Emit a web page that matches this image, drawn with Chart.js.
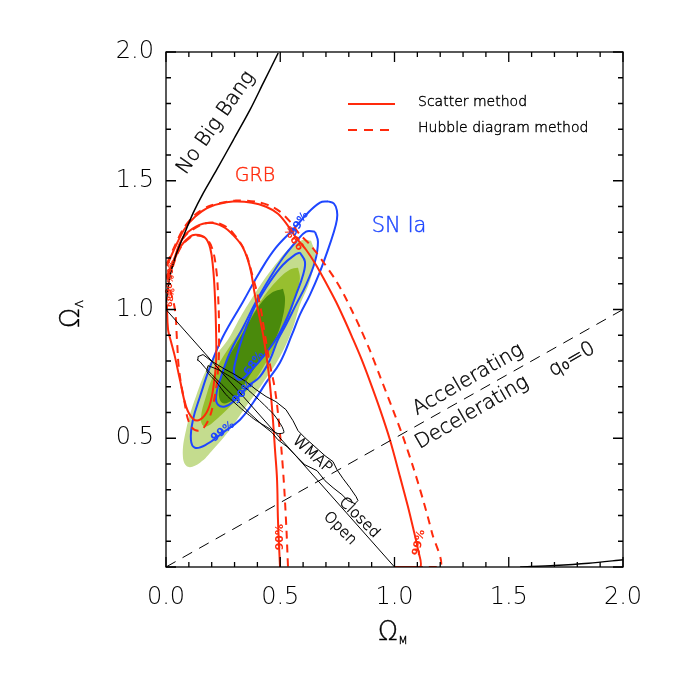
<!DOCTYPE html>
<html>
<head>
<meta charset="utf-8">
<script src="https://cdn.jsdelivr.net/npm/chart.js@4.4.1/dist/chart.umd.min.js"></script>
<style>
  html, body { margin: 0; padding: 0; background: #fff; }
  canvas { display: block; }
</style>
</head>
<body>
<canvas id="grafico" width="673" height="673"></canvas>
<script>
// Plano Omega_M x Omega_Lambda: contornos GRB, SN Ia e WMAP

// eixos
const xTickLabels = ['0.0', '0.5', '1.0', '1.5', '2.0'];
const yTickLabels = ['', '0.5', '1.0', '1.5', '2.0'];
const majorTicks = [0, 0.5, 1, 1.5, 2];
const minorTicks = [0.1, 0.2, 0.3, 0.4, 0.6, 0.7, 0.8, 0.9, 1.1, 1.2, 1.3, 1.4, 1.6, 1.7, 1.8, 1.9];

// linhas de referencia
const noBigBang = [[0, 1.0], [0.002, 1.03], [0.007, 1.07], [0.02, 1.14], [0.047, 1.22], [0.076, 1.284],
  [0.119, 1.375], [0.163, 1.452], [0.222, 1.543], [0.295, 1.659], [0.368, 1.776], [0.426, 1.88], [0.491, 1.996]];
const recollapse = [[1.55, 0], [1.7, 0.006], [1.85, 0.015], [2.0, 0.028]];
const flatLine = [[0, 1], [1, 0]];
const q0Line = [[0, 0], [2, 1]];

// SN Ia (areas preenchidas)
const snLight = [[0.635, 1.267], [0.652, 1.213], [0.630, 1.112], [0.587, 1.019], [0.556, 0.930], [0.499, 0.817],
  [0.425, 0.716], [0.350, 0.623], [0.280, 0.534], [0.206, 0.456], [0.149, 0.405], [0.096, 0.389], [0.074, 0.428],
  [0.088, 0.533], [0.131, 0.662], [0.193, 0.793], [0.271, 0.883], [0.324, 0.968], [0.394, 1.069], [0.468, 1.162],
  [0.543, 1.240], [0.600, 1.271]];
const snMid = [[0.578, 1.162], [0.586, 1.120], [0.569, 1.057], [0.543, 0.980], [0.499, 0.894], [0.438, 0.794],
  [0.368, 0.700], [0.280, 0.623], [0.219, 0.572], [0.171, 0.545], [0.153, 0.572], [0.175, 0.662], [0.219, 0.767],
  [0.293, 0.875], [0.368, 0.968], [0.425, 1.046], [0.481, 1.108], [0.543, 1.155]];
const snCore = [[0.512, 1.081], [0.521, 1.038], [0.508, 0.960], [0.477, 0.883], [0.429, 0.817], [0.381, 0.763],
  [0.337, 0.700], [0.293, 0.650], [0.245, 0.638], [0.232, 0.689], [0.263, 0.794], [0.306, 0.864], [0.350, 0.930],
  [0.411, 1.019], [0.464, 1.066]];

// SN Ia (contornos azuis)
const sn99 = [[0.709, 1.420], [0.735, 1.411], [0.748, 1.384], [0.748, 1.349], [0.731, 1.291], [0.706, 1.225],
  [0.674, 1.147], [0.630, 1.057], [0.586, 0.980], [0.551, 0.902], [0.499, 0.794], [0.438, 0.716], [0.381, 0.638],
  [0.324, 0.572], [0.249, 0.522], [0.175, 0.475], [0.127, 0.463], [0.109, 0.494], [0.118, 0.572], [0.149, 0.662],
  [0.193, 0.778], [0.249, 0.894], [0.337, 1.030], [0.411, 1.147], [0.481, 1.240], [0.569, 1.322], [0.613, 1.368],
  [0.674, 1.415]];
const sn90 = [[0.652, 1.302], [0.665, 1.263], [0.652, 1.186], [0.613, 1.096], [0.569, 1.019], [0.525, 0.941],
  [0.490, 0.883], [0.455, 0.805], [0.411, 0.739], [0.368, 0.708], [0.293, 0.642], [0.258, 0.623], [0.228, 0.630],
  [0.219, 0.662], [0.241, 0.739], [0.280, 0.833], [0.337, 0.930], [0.394, 1.030], [0.455, 1.123], [0.512, 1.201],
  [0.569, 1.263], [0.613, 1.302]];
const sn68 = [[0.586, 1.221], [0.608, 1.186], [0.600, 1.135], [0.569, 1.057], [0.530, 0.968], [0.486, 0.891],
  [0.433, 0.825], [0.368, 0.759], [0.324, 0.727], [0.298, 0.751], [0.306, 0.805], [0.324, 0.863], [0.350, 0.930],
  [0.394, 1.019], [0.455, 1.108], [0.512, 1.174], [0.565, 1.213]];

// GRB - metodo de dispersao (solido) e diagrama de Hubble (tracejado)
const grbInner = [[0.004, 1.019], [0.009, 0.922], [0.022, 0.875], [0.039, 0.817], [0.061, 0.727], [0.088, 0.623],
  [0.118, 0.576], [0.149, 0.572], [0.184, 0.611], [0.206, 0.689], [0.219, 0.794], [0.219, 0.922], [0.214, 1.054],
  [0.206, 1.162], [0.193, 1.240], [0.171, 1.279], [0.131, 1.290], [0.105, 1.283], [0.061, 1.240], [0.018, 1.147],
  [0.004, 1.116]];
const grbInnerHD = [[0.018, 1.077], [0.039, 1.0], [0.048, 0.883], [0.057, 0.767], [0.079, 0.650], [0.105, 0.553],
  [0.140, 0.529], [0.175, 0.553], [0.206, 0.630], [0.228, 0.767], [0.232, 0.922], [0.228, 1.054], [0.219, 1.162],
  [0.201, 1.240], [0.175, 1.275], [0.136, 1.287], [0.105, 1.279], [0.061, 1.236], [0.022, 1.147], [0.009, 1.116]];
const grbMid = [[0.004, 1.131], [0.031, 1.186], [0.074, 1.279], [0.131, 1.322], [0.193, 1.337], [0.249, 1.322],
  [0.293, 1.290], [0.337, 1.240], [0.368, 1.162], [0.389, 1.057], [0.407, 0.980], [0.425, 0.902], [0.442, 0.805],
  [0.455, 0.708], [0.468, 0.572], [0.477, 0.456], [0.486, 0.339], [0.490, 0.184], [0.499, 0.0]];
const grbMidHD = [[0.004, 1.123], [0.031, 1.182], [0.074, 1.275], [0.131, 1.318], [0.193, 1.337], [0.254, 1.326],
  [0.302, 1.287], [0.346, 1.225], [0.381, 1.123], [0.411, 1.019], [0.433, 0.902], [0.455, 0.786], [0.477, 0.689],
  [0.495, 0.553], [0.512, 0.378], [0.525, 0.184], [0.534, 0.0]];
const grbOuter = [[0.004, 1.170], [0.039, 1.240], [0.079, 1.310], [0.127, 1.360], [0.193, 1.399], [0.293, 1.419],
  [0.376, 1.415], [0.438, 1.399], [0.490, 1.372], [0.530, 1.330], [0.569, 1.279], [0.613, 1.232], [0.656, 1.174],
  [0.700, 1.104], [0.744, 1.030], [0.779, 0.964], [0.814, 0.894], [0.853, 0.813], [0.893, 0.720], [0.937, 0.611],
  [0.980, 0.494], [1.024, 0.351], [1.059, 0.234], [1.081, 0.153], [1.103, 0.067], [1.112, 0.0], [1.002, 0.0]];
const grbOuterHD = [[0.004, 1.178], [0.039, 1.248], [0.079, 1.318], [0.127, 1.368], [0.193, 1.403], [0.306, 1.423],
  [0.389, 1.419], [0.455, 1.403], [0.499, 1.380], [0.543, 1.341], [0.586, 1.291], [0.630, 1.252], [0.687, 1.186],
  [0.744, 1.112], [0.779, 1.057], [0.814, 0.995], [0.853, 0.922], [0.893, 0.840], [0.937, 0.739], [0.993, 0.611],
  [1.037, 0.506], [1.081, 0.390], [1.125, 0.261], [1.164, 0.133], [1.199, 0.0], [1.002, 0.0]];

// WMAP
const wmapOuter = [[0.140, 0.817], [0.162, 0.825], [0.197, 0.801], [0.254, 0.770], [0.302, 0.747], [0.350, 0.720],
  [0.394, 0.689], [0.438, 0.662], [0.481, 0.642], [0.525, 0.611], [0.556, 0.568], [0.578, 0.529], [0.608, 0.502],
  [0.652, 0.467], [0.696, 0.432], [0.731, 0.409], [0.748, 0.378], [0.775, 0.343], [0.805, 0.308], [0.832, 0.273],
  [0.840, 0.258], [0.827, 0.246], [0.796, 0.258], [0.770, 0.281], [0.731, 0.308], [0.696, 0.335], [0.661, 0.374],
  [0.608, 0.397], [0.573, 0.428], [0.530, 0.467], [0.490, 0.494], [0.464, 0.522], [0.420, 0.553], [0.359, 0.603],
  [0.302, 0.658], [0.245, 0.708], [0.201, 0.747], [0.171, 0.774], [0.149, 0.797], [0.136, 0.805]];
const wmapInner = [[0.184, 0.782], [0.236, 0.763], [0.302, 0.727], [0.368, 0.681], [0.420, 0.638], [0.473, 0.591],
  [0.508, 0.545], [0.516, 0.522], [0.490, 0.518], [0.446, 0.541], [0.389, 0.572], [0.324, 0.619], [0.263, 0.669],
  [0.219, 0.720], [0.179, 0.759]];

const VERMELHO = '#ff2a0c';
const AZUL = '#1e46ff';
const FONTE = '"DejaVu Sans", sans-serif';

function fechar(pares) {
  return pares.concat([pares[0]]);
}

function serie(pares, estilo) {
  return Object.assign({
    data: pares.map(p => ({ x: p[0], y: p[1] })),
    showLine: true,
    pointRadius: 0,
    borderWidth: 2,
    tension: 0.4,
    fill: false
  }, estilo);
}

const datasets = [
  serie(fechar(snLight), { fill: 'shape', backgroundColor: '#c4dc8e', borderColor: 'rgba(0,0,0,0)', borderWidth: 0, order: 9 }),
  serie(fechar(snMid), { fill: 'shape', backgroundColor: '#97bf2f', borderColor: 'rgba(0,0,0,0)', borderWidth: 0, order: 8 }),
  serie(fechar(snCore), { fill: 'shape', backgroundColor: '#4a8a0c', borderColor: 'rgba(0,0,0,0)', borderWidth: 0, order: 7 }),

  serie(fechar(sn99), { borderColor: AZUL, order: 5 }),
  serie(fechar(sn90), { borderColor: AZUL, order: 5 }),
  serie(fechar(sn68), { borderColor: AZUL, order: 5 }),

  serie(grbInner, { borderColor: VERMELHO, order: 3 }),
  serie(grbInnerHD, { borderColor: VERMELHO, borderDash: [8, 6], order: 3 }),
  serie(grbMid, { borderColor: VERMELHO, order: 3 }),
  serie(grbMidHD, { borderColor: VERMELHO, borderDash: [8, 6], order: 3 }),
  serie(grbOuter, { borderColor: VERMELHO, tension: 0.3, order: 3 }),
  serie(grbOuterHD, { borderColor: VERMELHO, borderDash: [8, 6], tension: 0.3, order: 3 }),

  serie(fechar(wmapOuter), { borderColor: '#000', borderWidth: 1, tension: 0, order: 1 }),
  serie(fechar(wmapInner), { borderColor: '#000', borderWidth: 1, tension: 0.2, order: 1 }),

  serie(noBigBang, { borderColor: '#000', borderWidth: 1.5, tension: 0.3, order: 1 }),
  serie(recollapse, { borderColor: '#000', borderWidth: 1.5, tension: 0.3, order: 1 }),
  serie(flatLine, { borderColor: '#000', borderWidth: 1, tension: 0, order: 1 }),
  serie(q0Line, { borderColor: '#000', borderWidth: 1, borderDash: [11, 8], tension: 0, order: 1 })
];

// textos sobre o grafico (posicoes em coordenadas de dados)
const rotulos = [
  { t: 'No Big Bang', x: 0.219, y: 1.725, a: -55, f: '200 20px ' + FONTE, c: '#000' },
  { t: 'GRB', x: 0.389, y: 1.520, a: 0, f: '200 19px ' + FONTE, c: VERMELHO },
  { t: 'SN Ia', x: 1.020, y: 1.322, a: 0, f: '200 21px ' + FONTE, c: AZUL },
  { t: 'Accelerating', x: 1.322, y: 0.727, a: -30, f: '200 20px ' + FONTE, c: '#000' },
  { t: 'Decelerating', x: 1.339, y: 0.599, a: -30, f: '200 20px ' + FONTE, c: '#000' },
  { t: 'q\u2080=0', x: 1.777, y: 0.805, a: -30, f: '200 20px ' + FONTE, c: '#000' },
  { t: 'WMAP', x: 0.639, y: 0.436, a: 42, f: '200 15px ' + FONTE, c: '#000' },
  { t: 'Closed', x: 0.845, y: 0.191, a: 45, f: '200 15px ' + FONTE, c: '#000' },
  { t: 'Open', x: 0.761, y: 0.149, a: 45, f: '200 15px ' + FONTE, c: '#000' },
  { t: '99%', x: 0.582, y: 1.333, a: -58, f: 'bold 11px ' + FONTE, c: AZUL },
  { t: '68%', x: 0.385, y: 0.790, a: -55, f: 'bold 11px ' + FONTE, c: AZUL },
  { t: '90%', x: 0.337, y: 0.677, a: -50, f: 'bold 11px ' + FONTE, c: AZUL },
  { t: '99%', x: 0.249, y: 0.526, a: -38, f: 'bold 11px ' + FONTE, c: AZUL },
  { t: '99%', x: 0.565, y: 1.279, a: -125, f: 'bold 11px ' + FONTE, c: VERMELHO },
  { t: '90%', x: 0.499, y: 0.116, a: -90, f: 'bold 11px ' + FONTE, c: VERMELHO },
  { t: '99%', x: 1.107, y: 0.094, a: -78, f: 'bold 11px ' + FONTE, c: VERMELHO },
  { t: '99%', x: 0.022, y: 1.155, a: -80, f: 'bold 8px ' + FONTE, c: VERMELHO },
  { t: '90%', x: 0.018, y: 1.096, a: -80, f: 'bold 8px ' + FONTE, c: VERMELHO },
  { t: '68%', x: 0.022, y: 1.046, a: -80, f: 'bold 8px ' + FONTE, c: VERMELHO }
];

function escrever(ctx, str, px, py, ang, font, cor) {
  ctx.save();
  ctx.translate(px, py);
  ctx.rotate(ang * Math.PI / 180);
  ctx.font = font;
  ctx.fillStyle = cor;
  ctx.strokeStyle = cor;
  ctx.lineWidth = 0.4;
  ctx.textAlign = 'center';
  ctx.textBaseline = 'middle';
  ctx.fillText(str, 0, 0);
  if (font.startsWith('200')) ctx.strokeText(str, 0, 0);
  ctx.restore();
}

const moldura = {
  id: 'moldura',
  afterDatasetsDraw(chart) {
    const ctx = chart.ctx;
    const xs = chart.scales.x, ys = chart.scales.y;
    const { left, right, top, bottom } = chart.chartArea;

    rotulos.forEach(r => {
      escrever(ctx, r.t, xs.getPixelForValue(r.x), ys.getPixelForValue(r.y), r.a, r.f, r.c);
    });

    // legenda
    ctx.save();
    ctx.strokeStyle = VERMELHO;
    ctx.lineWidth = 2;
    ctx.beginPath();
    ctx.moveTo(left + 182, top + 52);
    ctx.lineTo(left + 229, top + 52);
    ctx.stroke();
    ctx.setLineDash([9, 7]);
    ctx.beginPath();
    ctx.moveTo(left + 182, top + 78);
    ctx.lineTo(left + 229, top + 78);
    ctx.stroke();
    ctx.restore();
    ctx.save();
    ctx.font = '200 14px ' + FONTE;
    ctx.fillStyle = '#000';
    ctx.strokeStyle = '#000';
    ctx.lineWidth = 0.4;
    ctx.textBaseline = 'middle';
    ctx.fillText('Scatter method', left + 252, top + 50);
    ctx.strokeText('Scatter method', left + 252, top + 50);
    ctx.fillText('Hubble diagram method', left + 252, top + 76);
    ctx.strokeText('Hubble diagram method', left + 252, top + 76);
    ctx.restore();

    // moldura e marcas para dentro
    ctx.save();
    ctx.strokeStyle = '#000';
    ctx.lineWidth = 1.3;
    ctx.strokeRect(left, top, right - left, bottom - top);
    ctx.beginPath();
    majorTicks.concat(minorTicks).forEach(v => {
      const len = majorTicks.includes(v) ? 10 : 5;
      const px = xs.getPixelForValue(v);
      const py = ys.getPixelForValue(v);
      ctx.moveTo(px, bottom); ctx.lineTo(px, bottom - len);
      ctx.moveTo(px, top); ctx.lineTo(px, top + len);
      ctx.moveTo(left, py); ctx.lineTo(left + len, py);
      ctx.moveTo(right, py); ctx.lineTo(right - len, py);
    });
    ctx.stroke();
    ctx.restore();

    // titulos dos eixos
    escrever(ctx, '\u03A9', 388, 633, 0, '200 26px ' + FONTE, '#000');
    escrever(ctx, 'M', 403, 641, 0, '200 11px ' + FONTE, '#000');
    escrever(ctx, '\u03A9', 72, 318, -90, '200 26px ' + FONTE, '#000');
    escrever(ctx, '\u039B', 80, 304, -90, '200 11px ' + FONTE, '#000');
  }
};

new Chart(document.getElementById('grafico'), {
  type: 'scatter',
  data: { datasets: datasets },
  plugins: [moldura],
  options: {
    responsive: false,
    animation: false,
    events: [],
    devicePixelRatio: 1,
    layout: { padding: { top: 52, right: 50, left: 0, bottom: 0 } },
    plugins: { legend: { display: false }, tooltip: { enabled: false } },
    scales: {
      x: {
        type: 'linear', min: 0, max: 2,
        afterFit: s => { s.height = 106; },
        grid: { display: false, drawTicks: false },
        border: { display: false },
        ticks: {
          stepSize: 0.5, padding: 16, color: '#000',
          font: { family: 'DejaVu Sans', size: 24, weight: '200' },
          callback: v => xTickLabels[majorTicks.indexOf(v)] ?? ''
        }
      },
      y: {
        type: 'linear', min: 0, max: 2,
        afterFit: s => { s.width = 166; },
        grid: { display: false, drawTicks: false },
        border: { display: false },
        ticks: {
          stepSize: 0.5, padding: 12, color: '#000',
          font: { family: 'DejaVu Sans', size: 24, weight: '200' },
          callback: v => yTickLabels[majorTicks.indexOf(v)] ?? ''
        }
      }
    }
  }
});
</script>
</body>
</html>
